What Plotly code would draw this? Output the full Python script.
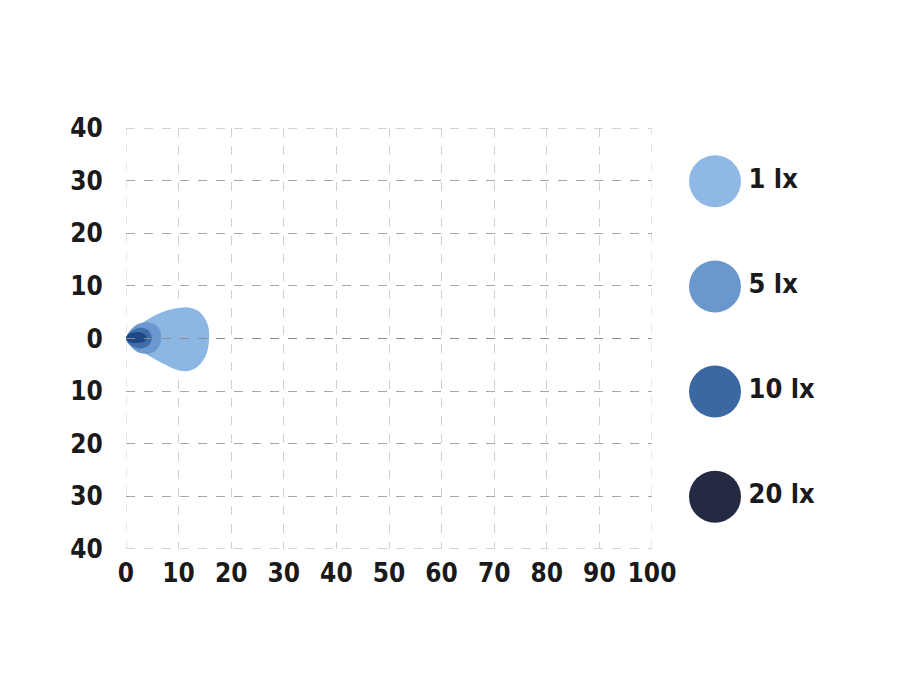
import plotly.graph_objects as go

# ---- data ----
x_ticks = [0, 10, 20, 30, 40, 50, 60, 70, 80, 90, 100]
y_ticks = [-40, -30, -20, -10, 0, 10, 20, 30, 40]
y_tick_labels = ["40", "30", "20", "10", "0", "10", "20", "30", "40"]

levels = ["1 lx", "5 lx", "10 lx", "20 lx"]

lx1_x = [0, 0.8, 2.2, 4.6, 7.7, 10.0, 11.8, 13.6, 15.0, 15.7, 15.8, 15.6, 15.0, 13.4, 11.5, 9.5, 7.7, 4.6, 2.2, 0.8, 0]
lx1_y = [0, 1.0, 2.3, 3.9, 5.3, 5.8, 5.9, 5.3, 3.8, 2.0, 0.2, -1.8, -3.6, -5.5, -6.2, -5.9, -5.1, -3.4, -2.0, -0.9, 0]

lx5_x = [0, 0.8, 2.0, 3.8, 5.3, 6.3, 6.7, 6.3, 5.2, 3.8, 2.1, 0.8, 0]
lx5_y = [0, 1.5, 2.6, 3.1, 2.8, 1.8, 0.2, -1.5, -2.6, -2.9, -2.5, -1.4, 0]

lx10_x = [0, 0.7, 2.0, 3.3, 4.4, 4.9, 4.5, 3.4, 2.0, 0.7, 0]
lx10_y = [0, 1.2, 1.9, 2.0, 1.4, 0.2, -1.1, -1.8, -1.8, -1.1, 0]

lx20_x = [0, 0.6, 1.8, 3.0, 3.7, 3.9, 3.6, 2.6, 1.4, 0.5, 0]
lx20_y = [0, 0.9, 1.2, 1.1, 0.6, 0.1, -0.5, -0.8, -0.8, -0.6, 0]

contours_x = [lx1_x, lx5_x, lx10_x, lx20_x]
contours_y = [lx1_y, lx5_y, lx10_y, lx20_y]

fill_colors = ["#8db7e3", "#6a98cf", "#3f6cab", "#1f4783"]
legend_colors = ["#8fb9e4", "#6b98cc", "#3b67a3", "#232a42"]

FONT = "DejaVu Sans Condensed, Liberation Sans Narrow, DejaVu Sans, sans-serif"

fig = go.Figure()

for name, xs, ys, col in zip(levels, contours_x, contours_y, fill_colors):
    fig.add_trace(go.Scatter(
        x=xs, y=ys, mode="lines", fill="toself", fillcolor=col,
        line=dict(width=0, shape="spline", smoothing=1.0, color=col),
        name=name, showlegend=False, hoverinfo="skip",
    ))

# custom legend (big circles + labels) on a helper axis
leg_y = list(range(len(levels)))
fig.add_trace(go.Scatter(
    x=[0] * len(levels), y=leg_y, mode="markers+text",
    marker=dict(size=52, color=legend_colors, line=dict(width=0)),
    text=levels, textposition="middle right",
    textfont=dict(family=FONT, size=27, color="#1a1a1a", weight="bold"),
    xaxis="x2", yaxis="y2", showlegend=False, hoverinfo="skip",
))

W, H = 900, 700
OFF = 8  # page body margin
L, R, T, B = 126 - OFF, 652 - OFF, 128 - OFF, 549 - OFF

tick_font = dict(family=FONT, size=26, color="#1a1a1a", weight="bold")

fig.update_layout(
    width=W, height=H,
    margin=dict(l=0, r=0, t=0, b=0, autoexpand=False),
    paper_bgcolor="white", plot_bgcolor="white",
    showlegend=False,
    xaxis=dict(
        domain=[L / W, R / W], range=[0, 100], automargin=False,
        tickvals=x_ticks, ticktext=[str(v) for v in x_ticks],
        tickfont=tick_font,
        showgrid=True, gridcolor="#d0d0d0", griddash="dash", gridwidth=1,
        zeroline=False, showline=False, ticks="outside", ticklen=1,
        tickcolor="rgba(0,0,0,0)", fixedrange=True,
    ),
    yaxis=dict(
        domain=[1 - B / H, 1 - T / H], range=[-40, 40], automargin=False,
        tickvals=y_ticks, ticktext=y_tick_labels,
        tickfont=tick_font,
        showgrid=True, gridcolor="#a8a8a8", griddash="dash", gridwidth=1,
        zeroline=False, showline=False, ticks="outside", ticklen=17,
        tickcolor="rgba(0,0,0,0)", fixedrange=True,
    ),
    xaxis2=dict(
        domain=[0.74, 1.0], range=[-0.806, 3.794], visible=False,
        anchor="y2", fixedrange=True, automargin=False,
    ),
    yaxis2=dict(
        domain=[1 - (523 - OFF) / H, 1 - (155 - OFF) / H], range=[3.25, -0.25],
        visible=False, anchor="x2", fixedrange=True, automargin=False,
    ),
)

# plot frame (dashed, like the grid) and the zero line drawn above the contours
fig.add_shape(type="line", xref="x", yref="y", x0=0, x1=100, y0=40, y1=40,
              line=dict(color="#a8a8a8", width=1, dash="dash"), layer="below")
fig.add_shape(type="line", xref="x", yref="y", x0=0, x1=100, y0=-40, y1=-40,
              line=dict(color="#a8a8a8", width=1, dash="dash"), layer="below")
fig.add_shape(type="line", xref="x", yref="y", x0=0, x1=0, y0=-40, y1=40,
              line=dict(color="#d0d0d0", width=1, dash="dash"), layer="below")
fig.add_shape(type="line", xref="x", yref="y", x0=100, x1=100, y0=-40, y1=40,
              line=dict(color="#d0d0d0", width=1, dash="dash"), layer="below")
fig.add_shape(type="line", xref="x", yref="y", x0=0, x1=100, y0=0, y1=0,
              line=dict(color="#8c8c8c", width=1, dash="dash"), layer="above")

fig.write_html("out.html")
